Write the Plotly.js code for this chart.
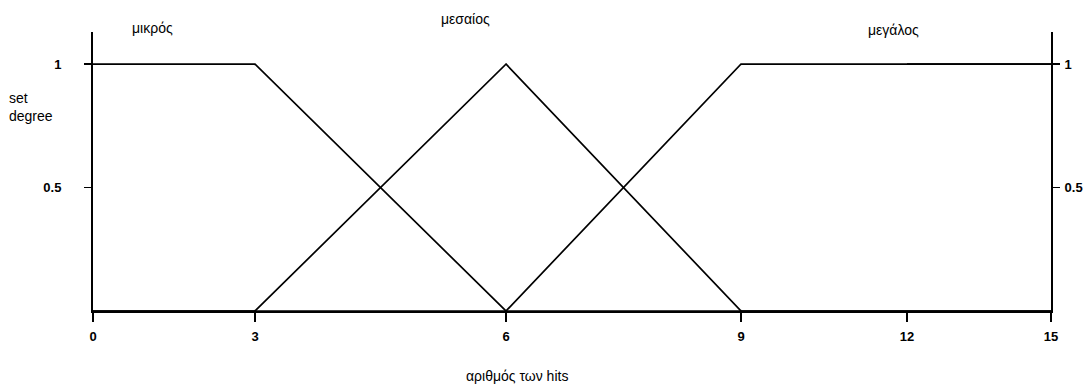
<!DOCTYPE html>
<html>
<head>
<meta charset="utf-8">
<script src="https://cdn.plot.ly/plotly-3.0.1.min.js"></script>
<style>html,body{margin:0;padding:0;background:#fff}#chart{width:1092px;height:385px}</style>
</head>
<body>
<div id="chart"></div>
<script>
// Tick values on the "number of hits" axis
const hitTicks = [0, 3, 6, 9, 12, 15];
const yTicks = [0.5, 1];
// Fuzzy sets (membership degree vs number of hits)
const setNames = ['μικρός', 'μεσαίος', 'μεγάλος'];
const smallX = [0, 3, 6, 15];
const smallY = [1, 1, 0, 0];
const mediumX = [0, 3, 6, 9, 15];
const mediumY = [0, 0, 1, 0, 0];
const largeX = [0, 6, 9, 15];
const largeY = [0, 0, 1, 1];

const series = [[smallX, smallY], [mediumX, mediumY], [largeX, largeY]];

// The original drawing's x axis is piecewise: each interval between ticks
// gets its own width (fractions of the plot width).
const segBounds = [0, 0.1691, 0.4311, 0.6764, 0.8497, 1];

const tickFont = {family: 'Liberation Sans, Arial, sans-serif', size: 13, color: '#000', weight: 'bold'};
const textFont = {family: 'Liberation Sans, Arial, sans-serif', size: 14, color: '#000'};

const traces = [];
const layout = {
  width: 1092, height: 385,
  margin: {l: 93, r: 41, t: 32, b: 74},
  paper_bgcolor: '#fff', plot_bgcolor: '#fff',
  showlegend: false,
  font: textFont,
  annotations: []
};

for (let k = 0; k < hitTicks.length - 1; k++) {
  const id = k === 0 ? '' : String(k + 1);
  const ax = 'xaxis' + id;
  const tv = (k === hitTicks.length - 2) ? [hitTicks[k], hitTicks[k + 1]] : [hitTicks[k]];
  layout[ax] = {
    domain: [segBounds[k], segBounds[k + 1]],
    range: [hitTicks[k], hitTicks[k + 1]],
    anchor: 'y',
    showgrid: false, zeroline: false,
    showline: true, linecolor: '#000', linewidth: 2,
    ticks: 'outside', ticklen: 9, tickwidth: 1.5, tickcolor: '#000',
    tickmode: 'array', tickvals: tv, ticktext: tv.map(String),
    tickfont: tickFont, ticklabelstandoff: 3, fixedrange: true
  };
  series.forEach(function (s) {
    traces.push({
      type: 'scatter', mode: 'lines', x: s[0], y: s[1],
      xaxis: 'x' + id, yaxis: 'y',
      line: {color: '#000', width: 1.7}, hoverinfo: 'skip'
    });
  });
}

// Right-side mirror axis (needs a trace on the last segment)
traces.push({
  type: 'scatter', mode: 'lines', x: largeX, y: largeY,
  xaxis: 'x5', yaxis: 'y2', line: {color: '#000', width: 1.7}, hoverinfo: 'skip'
});

const yCommon = {
  range: [0, 1.13],
  showgrid: false, zeroline: false,
  showline: true, linecolor: '#000', linewidth: 2,
  ticks: 'outside', ticklen: 7, tickwidth: 1.5, tickcolor: '#000',
  tickmode: 'array', tickvals: yTicks, ticktext: yTicks.map(String),
  tickfont: tickFont, fixedrange: true
};
layout.yaxis = Object.assign({}, yCommon, {anchor: 'x', side: 'left', ticklabelstandoff: 20});
layout.yaxis2 = Object.assign({}, yCommon, {anchor: 'x5', side: 'right', overlaying: 'y', ticklabelstandoff: 2});

// Set labels above the chart
const labelPos = [[0.062, 28], [0.389, 19], [0.836, 30]];
setNames.forEach(function (n, i) {
  layout.annotations.push({
    text: n, xref: 'paper', yref: 'paper',
    x: labelPos[i][0], y: 1 + (32 - labelPos[i][1]) / 279,
    xanchor: 'center', yanchor: 'middle', showarrow: false, font: textFont
  });
});
// y title
layout.annotations.push({
  text: 'set<br>degree', xref: 'paper', yref: 'paper',
  x: -86 / 958, y: (311 - 107) / 279, xanchor: 'left', yanchor: 'middle',
  align: 'left', showarrow: false, font: textFont
});
// x title
layout.annotations.push({
  text: 'αριθμός των hits', xref: 'paper', yref: 'paper',
  x: (517 - 93) / 958, y: -(376 - 311) / 279, xanchor: 'center', yanchor: 'middle',
  showarrow: false, font: textFont
});

Plotly.newPlot('chart', traces, layout, {displayModeBar: false, staticPlot: true});
</script>
</body>
</html>
